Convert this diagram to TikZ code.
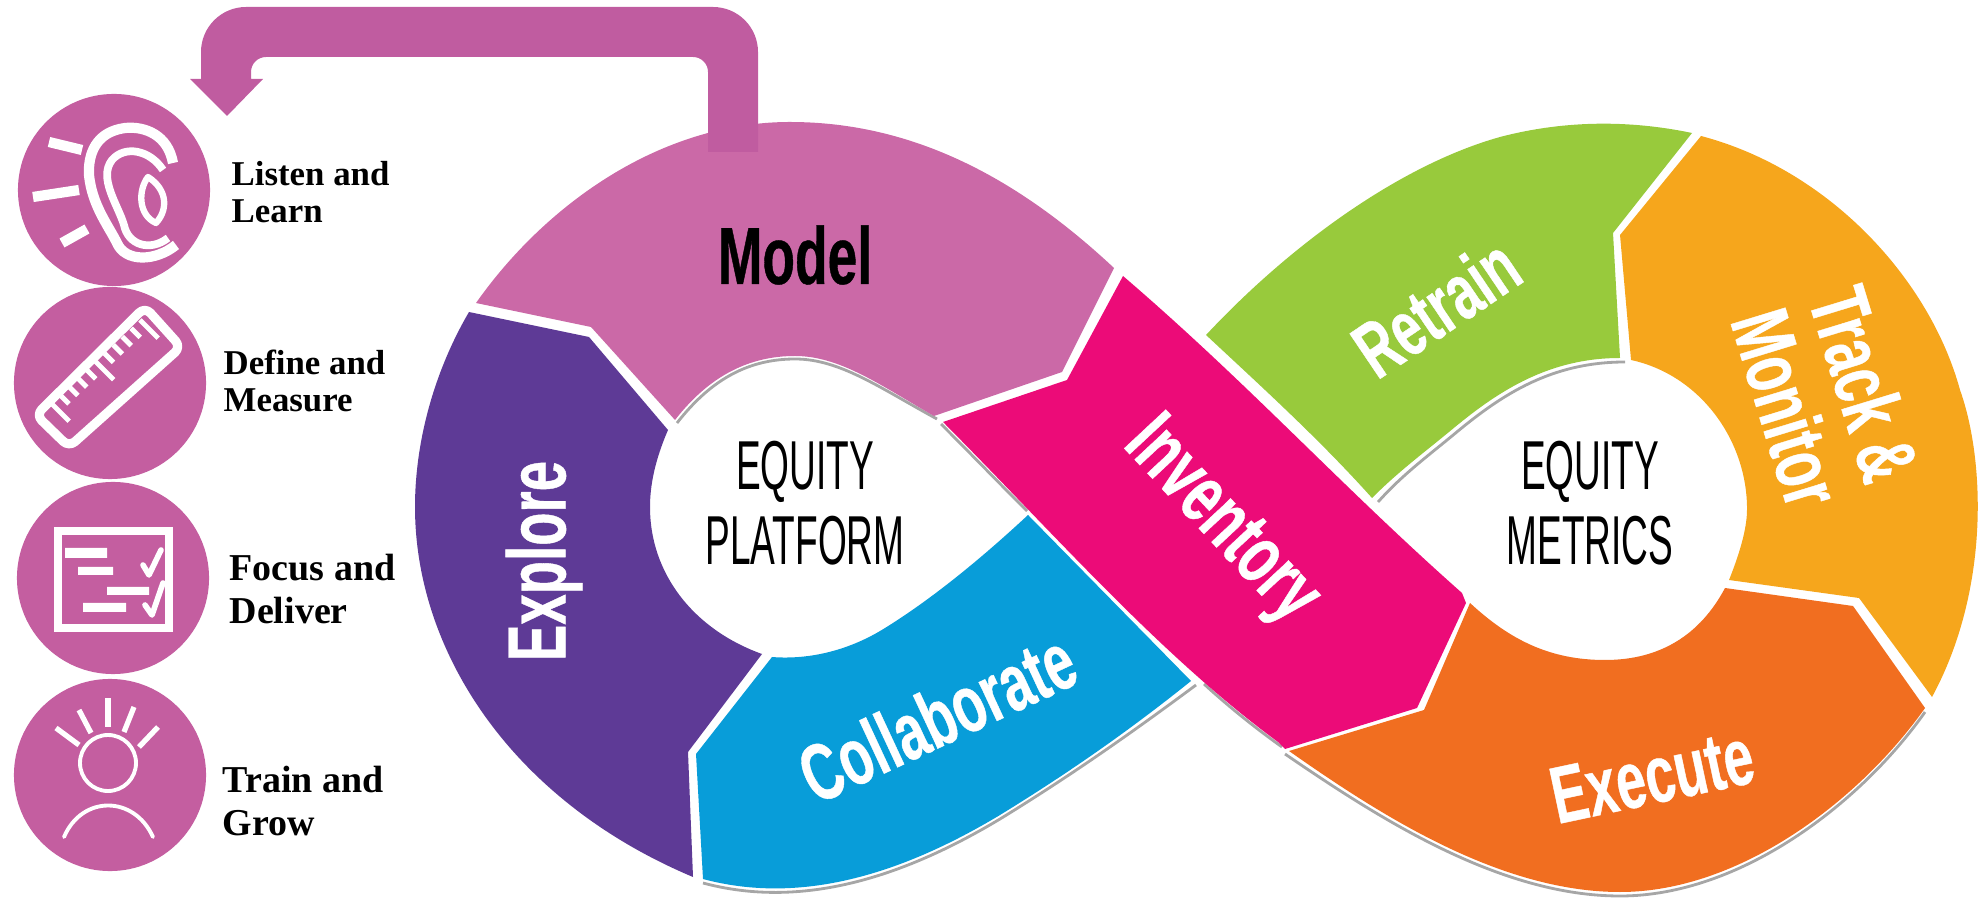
\documentclass[tikz,border=0pt]{standalone}
\usepackage{fontspec}
\setmainfont{Liberation Serif}
\newfontfamily\segfont[FakeStretch=0.66,BoldFeatures={FakeBold=0.5}]{Liberation Sans}
\newfontfamily\thinfont[FakeStretch=0.535]{Liberation Sans}

\begin{document}
\begin{tikzpicture}[x=0.01cm, y=-0.01cm,
                    iconcircle/.style={circle, fill=circlepink, minimum size=1.92cm, inner sep=0},
                    sidelabel/.style={anchor=west, inner sep=0, align=left, font=\bfseries\fontsize{9.9}{10.6}\selectfont},
                    sidelabelbig/.style={anchor=west, inner sep=0, align=left, font=\bfseries\fontsize{10.8}{12}\selectfont},
                    seglabel/.style={inner sep=0, text=white, font=\segfont\bfseries\fontsize{22.5}{22.5}\selectfont},
                    hublabel/.style={inner sep=0, align=center, font=\thinfont\fontsize{19.7}{21.5}\selectfont},
                    iconline/.style={draw=white, line width=2.9pt, line cap=round, line join=round},
                    shadowline/.style={draw=gray!70, line width=0.8pt}]
  \definecolor{circlepink}{HTML}{C45EA0}
  \definecolor{arrowpink}{HTML}{C05CA0}
  \definecolor{modelcol}{HTML}{CB69A7}
  \definecolor{explorecol}{HTML}{5E3A96}
  \definecolor{collabcol}{HTML}{089DD9}
  \definecolor{inventorycol}{HTML}{EC0B78}
  \definecolor{retraincol}{HTML}{98CA3C}
  \definecolor{trackcol}{HTML}{F6A61C}
  \definecolor{executecol}{HTML}{F16E20}
  \useasboundingbox (0,0) rectangle (1980,901);

  % grey edges under the band
  \draw[shadowline] (677,423) .. controls (712,378) and (750,359) .. (795,359) .. controls (840,359) and (880,388) .. (937,419);
  \draw[shadowline] (1625,362) .. controls (1552,362) and (1503,394) .. (1458,431) .. controls (1428,456) and (1403,474) .. (1378,502);
  \draw[shadowline] (1285,754) .. controls (1380,819) and (1500,896) .. (1620,896) .. controls (1740,896) and (1860,804) .. (1925,712);
  \draw[shadowline] (703,883) .. controls (800,909) and (900,879) .. (1000,819) .. controls (1070,776) and (1130,734) .. (1196,685);
  \draw[shadowline] (941,424) .. controls (970,453) and (1000,484) .. (1027,511);
  \draw[shadowline] (1204,684) .. controls (1228,706) and (1254,727) .. (1282,747);

  % band segments
  \fill[modelcol] (476,303) -- (591,327) -- (675,420) .. controls (710,375) and (750,356) .. (795,356) .. controls (840,356) and (880,385) .. (934,416)
    -- (1062,372) -- (1114,268) .. controls (1020,180) and (915,122) .. (790,122) .. controls (660,122) and (545,205) .. (476,303) -- cycle;
  \fill[explorecol] (469,312) -- (589,337) -- (668,430) .. controls (655,460) and (650,485) .. (650,507) .. controls (650,575) and (695,630) .. (762,654)
    -- (688,752) -- (693,877) .. controls (510,800) and (415,650) .. (415,507) .. controls (415,440) and (435,370) .. (469,312) -- cycle;
  \fill[collabcol] (772,657) -- (696,754) -- (703,879) .. controls (800,905) and (900,875) .. (1000,815) .. controls (1070,772) and (1130,730) .. (1191,681)
    -- (1028,515) .. controls (985,555) and (935,597) .. (885,628) .. controls (850,650) and (810,660) .. (772,657) -- cycle;
  \fill[inventorycol] (1123,276) .. controls (1250,385) and (1340,485) .. (1462,593) -- (1466,603) -- (1417,708) -- (1285,749) -- (1278,742)
    .. controls (1160,655) and (1060,540) .. (943,422) -- (1067,380) -- cycle;
  \fill[retraincol] (1206,335) .. controls (1290,245) and (1400,165) .. (1500,137) .. controls (1565,120) and (1630,120) .. (1692,133)
    -- (1613,233) -- (1620,358) .. controls (1550,358) and (1500,390) .. (1455,427) .. controls (1425,452) and (1400,470) .. (1372,498)
    .. controls (1320,440) and (1265,390) .. (1206,335) -- cycle;
  \fill[trackcol] (1701,136) .. controls (1830,170) and (1930,280) .. (1960,390) .. controls (1985,460) and (1990,590) .. (1932,697)
    -- (1859,598) -- (1729,580) .. controls (1745,540) and (1747,520) .. (1747,509) .. controls (1747,440) and (1700,375) .. (1631,360) -- (1620,235) -- cycle;
  \fill[executecol] (1470,603) -- (1424,710) -- (1289,751) .. controls (1380,815) and (1500,892) .. (1620,892) .. controls (1740,892) and (1860,800) .. (1925,708)
    -- (1853,606) -- (1725,588) .. controls (1700,635) and (1660,660) .. (1605,660) .. controls (1550,660) and (1510,640) .. (1470,603) -- cycle;

  \fill[arrowpink] (708,152) [rounded corners=0.15cm] -- (708,57) -- (251,57) [sharp corners] -- (251,79) -- (263,79) -- (227,116) -- (190,79) -- (201,79)
    [rounded corners=0.45cm] -- (201,7) -- (758,7) [sharp corners] -- (758,152) -- cycle;

  \node[iconcircle] (listen) at (114,190) {};
  \node[iconcircle] (define) at (110,383) {};
  \node[iconcircle] (focus) at (113,578) {};
  \node[iconcircle] (train) at (110,775) {};

  \node[sidelabel] (listentxt) at (231,192) {Listen and\\Learn};
  \node[sidelabel] (definetxt) at (223,381) {Define and\\Measure};
  \node[sidelabelbig] (focustxt) at (229,589) {Focus and\\Deliver};
  \node[sidelabelbig] (traintxt) at (222,801) {Train and\\Grow};

  % ear
  \draw[iconline, line cap=butt] (49,142) -- (82,150) (33,197) -- (79,190) (62,243) -- (87,229);
  \draw[iconline, line cap=butt] (173,163) .. controls (168,135) and (145,126) .. (125,128) .. controls (95,132) and (88,155) .. (89,175) .. controls (92,205) and (108,225) .. (117,243) .. controls (125,262) and (155,262) .. (176,245);
  \draw[iconline, line width=2.2pt, line cap=butt] (163,170) .. controls (150,150) and (125,145) .. (112,160) .. controls (98,178) and (118,205) .. (124,225) .. controls (128,245) and (150,252) .. (168,238);
  \draw[iconline, line width=1.8pt] (148,177) .. controls (138,190) and (138,215) .. (156,223) .. controls (168,210) and (168,190) .. (148,177) -- cycle;

  % ruler
  \draw[iconline, line width=2.6pt, rounded corners=0.08cm] (145,307) -- (181,347) -- (69,447) -- (36,415) -- cycle;
  \foreach \t in {0,...,10} {
    \pgfmathsetmacro{\tl}{(mod(\t,5)==0) ? 26 : 13}
    \draw[draw=white, line width=1.4pt] ({51+8.9*\t},{403-8.3*\t}) -- ++({0.7*\tl},{0.7*\tl});
  }

  % checklist
  \draw[draw=white, line width=2.5pt] (58,531) rectangle (169,628);
  \fill[white] (65,548) rectangle (107,558) (78,567) rectangle (113,575) (107,587) rectangle (149,595) (83,603) rectangle (126,612);
  \draw[iconline, line width=1.6pt] (143,565) -- (149,575) -- (161,550);
  \draw[iconline, line width=1.6pt] (145,605) -- (152,615) -- (163,583);

  % person
  \draw[iconline, line width=1.1pt] (108,763) circle (28);
  \draw[iconline, line width=1.1pt] (64,837) .. controls (82,795) and (134,795) .. (153,837);
  \foreach \a/\b/\c/\d in {108/698/108/727, 79/710/91/733, 134/707/124/732, 56/728/79/745, 158/727/139/747} {
    \draw[iconline, line width=1.5pt, line cap=butt] (\a,\b) -- (\c,\d);
  }

  \node[seglabel, text=black, font=\segfont\bfseries\fontsize{23}{23}\selectfont] (model) at (795,255) {Model};
  \node[seglabel, rotate=90, font=\segfont\bfseries\fontsize{23.5}{23.5}\selectfont] (explore) at (544,561) {Explore};
  \node[seglabel, rotate=25, font=\segfont\bfseries\fontsize{23}{23}\selectfont] (collab) at (937,717) {Collaborate};
  \node[seglabel, rotate=-47, font=\segfont\bfseries\fontsize{23.5}{23.5}\selectfont] (inventory) at (1220,522) {Inventory};
  \node[seglabel, rotate=34] (retrain) at (1436,307) {Retrain};
  \node[seglabel, rotate=-73, align=center, font=\segfont\bfseries\fontsize{23.5}{23}\selectfont] (track) at (1826,396) {Track \&\\Monitor};
  \node[seglabel, rotate=12, font=\segfont\bfseries\fontsize{23}{23}\selectfont] (execute) at (1652,776) {Execute};

  \node[hublabel] (platform) at (805,503) {EQUITY\\PLATFORM};
  \node[hublabel] (metrics) at (1590,503) {EQUITY\\METRICS};
\end{tikzpicture}
\end{document}
